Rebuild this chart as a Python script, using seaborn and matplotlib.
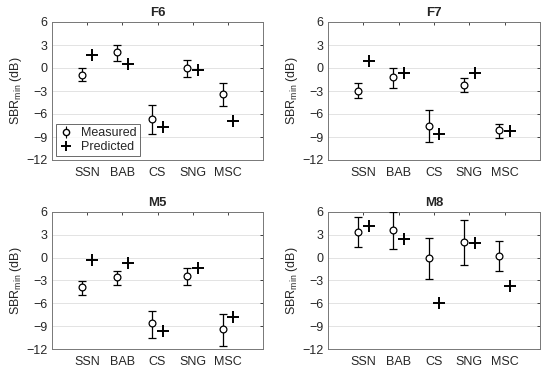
import numpy as np
import pandas as pd
import matplotlib
matplotlib.use('Agg')
import matplotlib.pyplot as plt
import seaborn as sns

# noise types on the x axis
categories = ['SSN', 'BAB', 'CS', 'SNG', 'MSC']
panels = ['F6', 'F7', 'M5', 'M8']

# measured SBRmin (dB) with lower / upper ends of the error bars
measured = {
    'F6': [-0.9, 2.05, -6.65, 0.0, -3.35],
    'F7': [-2.95, -1.2, -7.5, -2.2, -8.15],
    'M5': [-3.9, -2.6, -8.6, -2.4, -9.35],
    'M8': [3.4, 3.6, 0.0, 2.05, 0.2],
}
measured_lo = {
    'F6': [-1.75, 0.95, -8.6, -1.2, -4.95],
    'F7': [-3.95, -2.55, -9.6, -3.1, -9.15],
    'M5': [-4.9, -3.6, -10.5, -3.65, -11.6],
    'M8': [1.35, 1.15, -2.85, -1.0, -1.8],
}
measured_hi = {
    'F6': [0.0, 3.0, -4.8, 1.1, -1.9],
    'F7': [-2.0, 0.0, -5.5, -1.35, -7.3],
    'M5': [-3.1, -1.7, -6.95, -1.35, -7.35],
    'M8': [5.3, 5.95, 2.6, 5.0, 2.2],
}
# predicted SBRmin (dB)
predicted = {
    'F6': [1.7, 0.5, -7.65, -0.25, -6.95],
    'F7': [0.95, -0.6, -8.6, -0.6, -8.25],
    'M5': [-0.3, -0.75, -9.7, -1.4, -7.85],
    'M8': [4.1, 2.4, -6.0, 1.95, -3.75],
}

sns.set_style('white')
plt.rcParams['font.family'] = ['Liberation Sans', 'DejaVu Sans']
plt.rcParams['mathtext.fontset'] = 'custom'
plt.rcParams['mathtext.rm'] = 'Liberation Sans'

fig = plt.figure(figsize=(5.5, 3.71), dpi=100)

# axes boxes in pixel coords (left, top, right, bottom)
boxes = {
    'F6': (52, 22, 263, 160),
    'F7': (328, 22, 540, 160),
    'M5': (52, 212, 263, 349),
    'M8': (328, 212, 540, 349),
}
W, H = 550, 371
off = 0.15
xpos = np.arange(1, len(categories) + 1)

for name in panels:
    l, t, r, b = boxes[name]
    ax = fig.add_axes([l / W, 1 - b / H, (r - l) / W, (b - t) / H])

    df = pd.DataFrame({
        'x': xpos,
        'meas': measured[name],
        'lo': measured_lo[name],
        'hi': measured_hi[name],
        'pred': predicted[name],
    })
    yerr = np.vstack([df['meas'] - df['lo'], df['hi'] - df['meas']])
    ax.errorbar(df['x'] - off, df['meas'], yerr=yerr, fmt='none',
                ecolor='black', elinewidth=0.9, capsize=2.8, capthick=0.9, zorder=3)
    sns.scatterplot(x=df['x'] - off, y=df['meas'], ax=ax, marker='o', s=24,
                    facecolor='white', edgecolor='black', linewidth=0.9, zorder=4)
    sns.scatterplot(x=df['x'] + off, y=df['pred'], ax=ax, marker='+', s=64,
                    color='black', linewidth=1.4, zorder=4)

    ax.set_xlim(0, 6)
    ax.set_ylim(-12, 6)
    ax.set_xticks(xpos)
    ax.set_xticklabels(categories)
    ax.set_yticks(np.arange(-12, 7, 3))
    ax.set_xlabel('')
    ax.set_ylabel(r'SBR$_{\rm min}$ (dB)', fontsize=9, color='#262626', labelpad=2)
    ax.set_title(name, fontsize=9.5, fontweight='bold', pad=4)
    ax.grid(axis='y', color='#e3e3e3', linewidth=0.7)
    ax.set_axisbelow(True)
    ax.tick_params(direction='in', length=2, width=0.6, labelsize=9,
                   colors='#262626', top=True, right=True, pad=3)
    ax.tick_params(axis='x', pad=5)
    for sp in ax.spines.values():
        sp.set_color('#777777')
        sp.set_linewidth(0.7)

    if name == 'F6':
        h1 = ax.errorbar([], [], yerr=[], fmt='o', mfc='white', mec='black', ms=4.5,
                         ecolor='black', capsize=2, elinewidth=0.8)
        h2, = ax.plot([], [], '+', color='black', ms=7, mew=1.4)
        leg = ax.legend([h1, h2], ['Measured', 'Predicted'], loc='lower left',
                        fontsize=9, frameon=True, fancybox=False, borderaxespad=0.3,
                        handletextpad=0.6, handlelength=1.2, borderpad=0.25,
                        labelspacing=0.15)
        leg.get_frame().set_edgecolor('#444444')
        leg.get_frame().set_linewidth(0.7)

fig.savefig('out.png', dpi=100)
